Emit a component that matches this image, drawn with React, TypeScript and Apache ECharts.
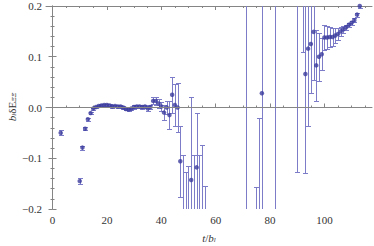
import React, { useEffect, useRef } from 'react';
import * as echarts from 'echarts';

// time slices t/b_l
const tValues = [
  3, 10, 11, 12, 13, 14, 15, 16, 17, 18, 19, 20, 21, 22, 23, 24, 25, 26, 27, 28, 29,
  30, 31, 32, 33, 34, 35, 36, 37, 38, 39, 40, 41, 42, 43, 44, 45, 46, 47, 48, 49, 50,
  51, 52, 53, 54, 55, 56, 71, 75, 76, 77, 82, 90, 92, 93, 94, 95, 96, 97, 98, 99, 100,
  101, 102, 103, 104, 105, 106, 107, 108, 109, 110, 111, 112, 113,
];
// b_l δE values
const deltaE = [
  -0.05, -0.145, -0.079, -0.042, -0.023, -0.011, -0.002, 0.001, 0.003, 0.004, 0.005, 0.005,
  0.004, 0.002, 0.003, 0.002, 0.002, 0.0, -0.003, -0.004, -0.002,
  0.001, 0.002, 0.002, 0.001, 0.002, -0.002, 0.001, 0.013, 0.013, 0.008, 0.002, -0.01, 0.0,
  -0.015, 0.025, 0.005, 0.0, -0.106, -0.26, -0.27, -0.26,
  -0.143, -0.25, -0.118, -0.26, -0.25, -0.28, -0.3, -0.3, -0.25, 0.028, 0.35, 0.25, 0.25,
  0.066, 0.116, 0.125, 0.149, 0.083, 0.1, 0.105, 0.138,
  0.138, 0.139, 0.139, 0.142, 0.145, 0.15, 0.154, 0.158, 0.163, 0.167, 0.172, 0.183, 0.2,
];
// symmetric errors
const errors = [
  0.005, 0.006, 0.004, 0.003, 0.003, 0.002, 0.002, 0.002, 0.002, 0.002, 0.002, 0.002,
  0.002, 0.002, 0.002, 0.002, 0.002, 0.002, 0.002, 0.002, 0.002,
  0.003, 0.003, 0.003, 0.003, 0.003, 0.004, 0.004, 0.007, 0.008, 0.008, 0.009, 0.015, 0.012,
  0.028, 0.036, 0.041, 0.048, 0.07, 0.166, 0.143, 0.144,
  0.163, 0.156, 0.107, 0.166, 0.176, 0.125, 0.6, 0.143, 0.23, 0.4, 0.7, 0.377, 0.14,
  0.196, 0.152, 0.097, 0.095, 0.07, 0.047, 0.032, 0.024,
  0.022, 0.02, 0.018, 0.015, 0.012, 0.009, 0.007, 0.005, 0.004, 0.004, 0.004, 0.004, 0.004,
];

const xMajorTicks = [0, 20, 40, 60, 80, 100];
const xMinorTicks = [5, 10, 15, 25, 30, 35, 45, 50, 55, 65, 70, 75, 85, 90, 95, 105, 110, 115];
const yTickLabels = ['−0.2', '−0.1', '0.0', '0.1', '0.2'];

const X_MIN = -2.4;
const X_MAX = 117.5;
const Y_MIN = -0.2;
const Y_MAX = 0.2;

const frameColor = '#858585';
const pointColor = '#3b3b9e';
const barColor = '#7c7cc8';
const serif = '"Liberation Serif", "DejaVu Serif", serif';

export default function App() {
  const ref = useRef<HTMLDivElement>(null);
  useEffect(() => {
    if (!ref.current) return;
    const chart = echarts.init(ref.current, null, { renderer: 'svg' });

    const baseX = (extra: any) => ({
      type: 'value',
      min: X_MIN,
      max: X_MAX,
      splitLine: { show: false },
      ...extra,
    });
    const baseY = (extra: any) => ({
      type: 'value',
      min: Y_MIN,
      max: Y_MAX,
      interval: 0.1,
      splitLine: { show: false },
      ...extra,
    });

    const fmtY = (v: number) => {
      const idx = Math.round((v - Y_MIN) / 0.1);
      return yTickLabels[idx] ?? '';
    };

    chart.setOption({
      animation: false,
      grid: { left: 46, top: 6, width: 326, height: 203, containLabel: false },
      xAxis: [
        baseX({
          position: 'bottom',
          axisLine: { show: true, lineStyle: { color: frameColor, width: 1 } },
          axisTick: { show: true, inside: true, length: 4, customValues: xMajorTicks, lineStyle: { color: frameColor } },
          axisLabel: { show: true, customValues: xMajorTicks, margin: 5, fontFamily: serif, fontSize: 11, color: '#333' },
        }),
        baseX({
          position: 'bottom',
          axisLine: { show: false },
          axisTick: { show: true, inside: true, length: 2, customValues: xMinorTicks, lineStyle: { color: frameColor } },
          axisLabel: { show: false },
        }),
        baseX({
          position: 'top',
          axisLine: { show: true, lineStyle: { color: frameColor, width: 1 } },
          axisTick: { show: true, inside: true, length: 4, customValues: xMajorTicks, lineStyle: { color: frameColor } },
          axisLabel: { show: false },
        }),
        baseX({
          position: 'top',
          axisLine: { show: false },
          axisTick: { show: true, inside: true, length: 2, customValues: xMinorTicks, lineStyle: { color: frameColor } },
          axisLabel: { show: false },
        }),
      ],
      yAxis: [
        baseY({
          position: 'left',
          axisLine: { show: true, lineStyle: { color: frameColor, width: 1 } },
          axisTick: { show: true, inside: true, length: 4, lineStyle: { color: frameColor } },
          minorTick: { show: true, splitNumber: 5, length: 2, lineStyle: { color: frameColor } },
          axisLabel: { show: true, margin: 4, formatter: fmtY, fontFamily: serif, fontSize: 11, color: '#333' },
        }),
        baseY({
          position: 'right',
          axisLine: { show: true, lineStyle: { color: frameColor, width: 1 } },
          axisTick: { show: true, inside: true, length: 4, lineStyle: { color: frameColor } },
          minorTick: { show: true, splitNumber: 5, length: 2, lineStyle: { color: frameColor } },
          axisLabel: { show: false },
        }),
      ],
      graphic: [
        {
          type: 'text',
          x: 12,
          y: 107,
          rotation: Math.PI / 2,
          style: {
            text: '{i|b}{s|l}{n|δE}{s|ΞΞ}',
            align: 'center',
            verticalAlign: 'middle',
            rich: {
              i: { fontFamily: serif, fontStyle: 'italic', fontSize: 11, fill: '#333' },
              n: { fontFamily: serif, fontSize: 11, fill: '#333' },
              s: { fontFamily: serif, fontStyle: 'italic', fontSize: 7, fill: '#333', verticalAlign: 'bottom', padding: [4, 0, 0, 0] },
            },
          },
        },
        {
          type: 'text',
          x: 209,
          y: 238,
          style: {
            text: '{i|t}{n|/}{i|b}{s|l}',
            align: 'center',
            verticalAlign: 'middle',
            rich: {
              i: { fontFamily: serif, fontStyle: 'italic', fontSize: 11, fill: '#333' },
              n: { fontFamily: serif, fontSize: 11, fill: '#333' },
              s: { fontFamily: serif, fontStyle: 'italic', fontSize: 7, fill: '#333', verticalAlign: 'bottom', padding: [4, 0, 0, 0] },
            },
          },
        },
      ],
      series: [
        {
          type: 'custom',
          xAxisIndex: 0,
          yAxisIndex: 0,
          clip: true,
          silent: true,
          data: tValues.map((t, i) => [t, deltaE[i], errors[i]]),
          encode: { x: 0, y: 1 },
          renderItem: (_params: any, api: any) => {
            const x = api.value(0);
            const v = api.value(1);
            const e = api.value(2);
            const top = api.coord([x, v + e]);
            const bot = api.coord([x, v - e]);
            const px = Math.round(top[0]) + 0.5;
            const ty = Math.round(top[1]) + 0.5;
            const by = Math.round(bot[1]) + 0.5;
            const hw = 2.5;
            const style = { stroke: barColor, lineWidth: 1, fill: 'none' };
            return {
              type: 'group',
              children: [
                { type: 'line', shape: { x1: px, y1: ty, x2: px, y2: by }, style },
                { type: 'line', shape: { x1: px - hw, y1: ty, x2: px + hw, y2: ty }, style },
                { type: 'line', shape: { x1: px - hw, y1: by, x2: px + hw, y2: by }, style },
              ],
            };
          },
        },
        {
          type: 'scatter',
          xAxisIndex: 0,
          yAxisIndex: 0,
          symbol: 'circle',
          symbolSize: 4.5,
          itemStyle: { color: pointColor },
          data: tValues.map((t, i) => [t, deltaE[i]]),
          markLine: {
            silent: true,
            symbol: ['none', 'none'],
            label: { show: false },
            lineStyle: { color: frameColor, width: 1, type: 'solid' },
            data: [{ yAxis: 0 }],
          },
        },
      ],
    });
    return () => chart.dispose();
  }, []);
  return (
    <div
      ref={ref}
      style={{ position: 'fixed', left: 0, top: 0, width: 374, height: 246, background: '#fff' }}
    />
  );
}
